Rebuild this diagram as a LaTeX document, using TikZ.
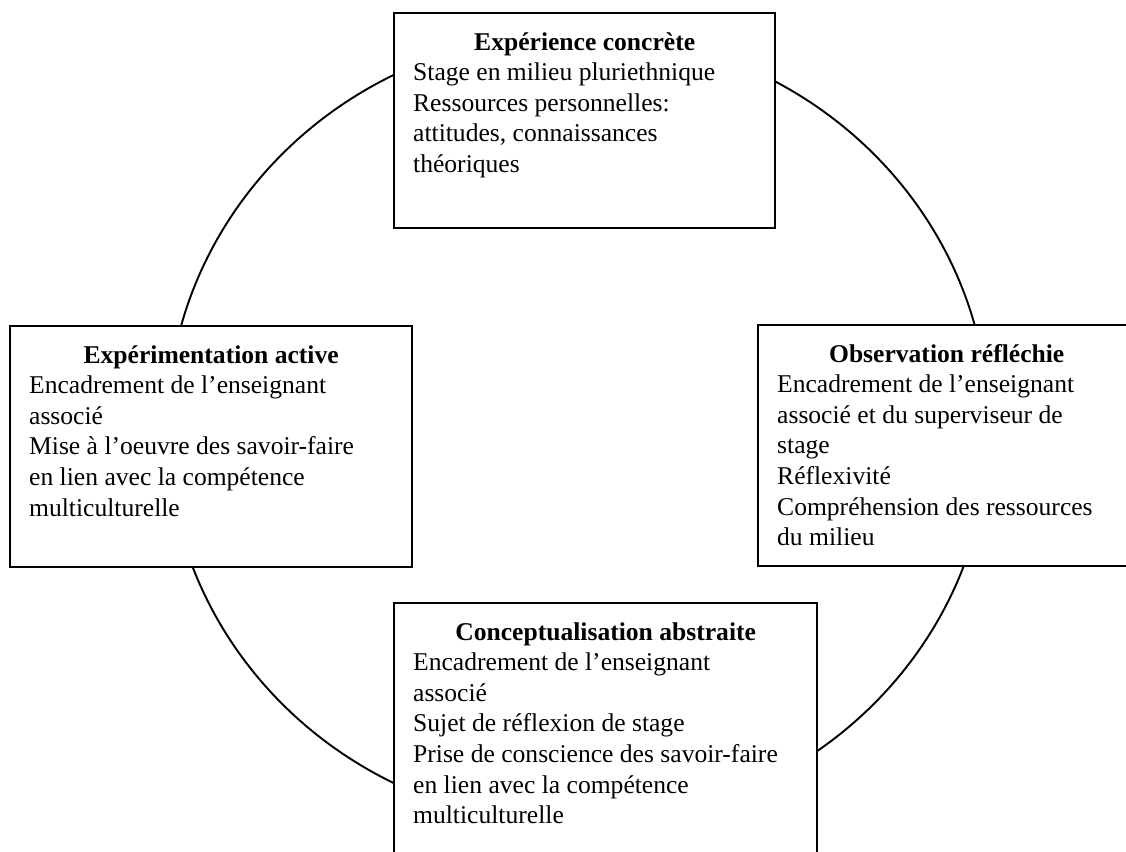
\documentclass[tikz,border=0pt]{standalone}
\usepackage{fontspec}
\setmainfont{Liberation Serif}
\usetikzlibrary{shapes.geometric}
\newlength\pxl
\setlength\pxl{0.469pt}
\tikzset{
  stagebox/.style={draw, fill=white, line width=1.1pt, anchor=north west, inner xsep=19\pxl, inner ysep=0pt, font=\fontsize{12}{14.35}\selectfont},
  cycleshape/.style={ellipse, draw, line width=0.9pt, inner sep=0pt, minimum width=822\pxl, minimum height=792\pxl}
}
% box text: width, height, heading, lines
\newcommand{\stagetext}[4]{\parbox[t][#2\pxl][t]{#1\pxl}{\makebox[\linewidth]{\rule{0pt}{37\pxl}\bfseries #3}\\#4}}

\begin{document}
\begin{tikzpicture}[x=0.469pt, y=-0.469pt]
	\useasboundingbox (0,0) rectangle (1126,851);
	\clip (0,0) rectangle (1126,851);
	\node (cycle)[cycleshape] at (578,429) {};
	\node (concrete)[stagebox] at (393,12) {\stagetext{343}{215}{Expérience concrète}{Stage en milieu pluriethnique\\Ressources personnelles:\\attitudes, connaissances\\théoriques}};
	\node (active)[stagebox] at (9,325) {\stagetext{364}{241}{Expérimentation active}{Encadrement de l’enseignant\\associé\\Mise à l’oeuvre des savoir-faire\\en lien avec la compétence\\multiculturelle}};
	\node (reflective)[stagebox] at (757,324) {\stagetext{339}{241}{Observation réfléchie}{Encadrement de l’enseignant\\associé et du superviseur de\\stage\\Réflexivité\\Compréhension des ressources\\du milieu}};
	\node (abstract)[stagebox] at (393,602) {\stagetext{385}{280}{Conceptualisation abstraite}{Encadrement de l’enseignant\\associé\\Sujet de réflexion de stage\\Prise de conscience des savoir-faire\\en lien avec la compétence\\multiculturelle}};
\end{tikzpicture}
\end{document}
